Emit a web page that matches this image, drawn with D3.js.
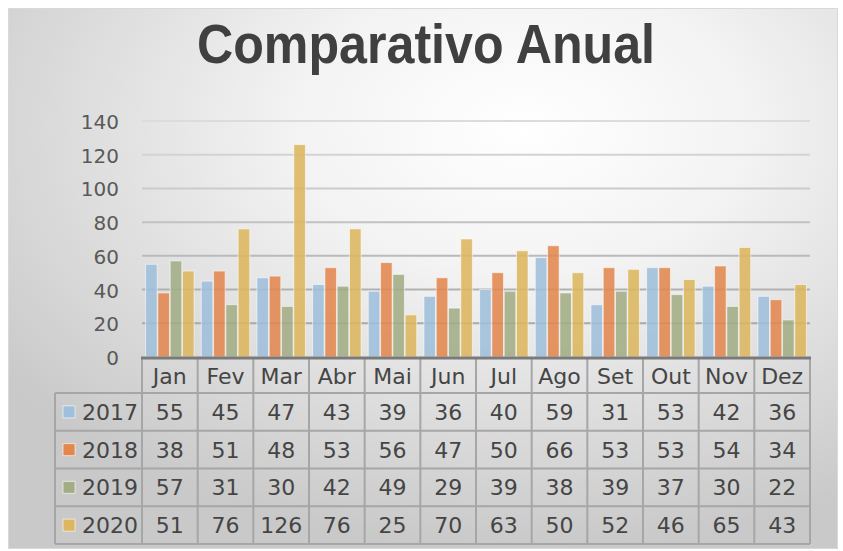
<!DOCTYPE html>
<html>
<head>
<meta charset="utf-8">
<script src="https://cdn.jsdelivr.net/npm/d3@7"></script>
<style>
  html, body { margin: 0; padding: 0; background: #fff; }
  svg { display: block; }
  text { font-family: "DejaVu Sans", sans-serif; fill: #454545; }
</style>
</head>
<body>
<svg id="chart" width="843" height="551"></svg>
<script>
var months = ['Jan', 'Fev', 'Mar', 'Abr', 'Mai', 'Jun', 'Jul', 'Ago', 'Set', 'Out', 'Nov', 'Dez'];
var years = ['2017', '2018', '2019', '2020'];
var v2017 = [55, 45, 47, 43, 39, 36, 40, 59, 31, 53, 42, 36];
var v2018 = [38, 51, 48, 53, 56, 47, 50, 66, 53, 53, 54, 34];
var v2019 = [57, 31, 30, 42, 49, 29, 39, 38, 39, 37, 30, 22];
var v2020 = [51, 76, 126, 76, 25, 70, 63, 50, 52, 46, 65, 43];
var yTicks = [0, 20, 40, 60, 80, 100, 120, 140];
var colours = ['#9fbfdc', '#e2884f', '#a3ad85', '#dcb660'];

var series = [v2017, v2018, v2019, v2020];

var svg = d3.select('#chart');

// Background with a soft radial gradient
var defs = svg.append('defs');
var grad = defs.append('radialGradient')
    .attr('id', 'bg')
    .attr('cx', '62%').attr('cy', '22%').attr('r', '78%');
grad.append('stop').attr('offset', '0%').attr('stop-color', '#ffffff');
grad.append('stop').attr('offset', '35%').attr('stop-color', '#f3f3f3');
grad.append('stop').attr('offset', '100%').attr('stop-color', '#c9c9c9');

svg.append('rect')
    .attr('x', 8.5).attr('y', 8.5)
    .attr('width', 829).attr('height', 540)
    .attr('fill', 'url(#bg)')
    .attr('stroke', '#d9d9d9');

// Title
svg.append('text')
    .attr('x', 426).attr('y', 63)
    .attr('text-anchor', 'middle')
    .attr('textLength', 458)
    .attr('lengthAdjust', 'spacingAndGlyphs')
    .style('font-family', '"Liberation Sans", Arial, sans-serif')
    .style('font-weight', 'bold')
    .style('font-size', '55px')
    .style('fill', '#404040')
    .text('Comparativo Anual');

// Plot area
var plot = {left: 142, right: 810, top: 121, bottom: 357};

var x = d3.scaleBand()
    .domain(months)
    .range([plot.left, plot.right])
    .paddingInner(0.13)
    .paddingOuter(0.065);

var xSub = d3.scaleBand()
    .domain(years)
    .range([0, x.bandwidth()])
    .paddingInner(0.06);

var y = d3.scaleLinear()
    .domain([0, 140])
    .range([plot.bottom, plot.top]);

// Gridlines get darker toward the bottom of the plot
var gridColour = d3.scaleLinear().domain([0, 140]).range(['#a0a0a0', '#dcdcdc']);

svg.append('g')
    .selectAll('line')
    .data(yTicks.filter(function(d) { return d > 0; }))
    .enter()
    .append('line')
        .attr('x1', plot.left).attr('x2', plot.right)
        .attr('y1', function(d) { return y(d); })
        .attr('y2', function(d) { return y(d); })
        .attr('stroke', function(d) { return gridColour(d); })
        .attr('stroke-width', 2);

// Y axis labels
svg.append('g')
    .selectAll('text')
    .data(yTicks)
    .enter()
    .append('text')
        .attr('x', 119)
        .attr('y', function(d) { return y(d) + 8; })
        .attr('text-anchor', 'end')
        .style('font-size', '20px')
        .style('fill', '#595959')
        .text(function(d) { return d; });

// Bars
var groups = svg.append('g')
    .selectAll('g')
    .data(months)
    .enter()
    .append('g')
        .attr('transform', function(d) { return 'translate(' + x(d) + ',0)'; });

groups.selectAll('rect')
    .data(function(d, i) {
        return years.map(function(yr, j) { return {year: yr, value: series[j][i], idx: j}; });
    })
    .enter()
    .append('rect')
        .attr('x', function(d) { return xSub(d.year); })
        .attr('y', function(d) { return y(d.value); })
        .attr('width', xSub.bandwidth())
        .attr('height', function(d) { return plot.bottom - y(d.value); })
        .attr('fill', function(d) { return colours[d.idx]; })
        .attr('fill-opacity', 0.88)
        .attr('stroke', 'rgba(255,255,255,0.55)')
        .attr('stroke-width', 1);

// Data table
var step = x.step();
var rowTop = 358;
var headH = 35;
var rowH = 37.75;
var tableLeft = 55;
var border = '#a6a6a6';

var table = svg.append('g');

// Header row with month names
table.selectAll('.head')
    .data(months)
    .enter()
    .append('text')
        .attr('class', 'head')
        .attr('x', function(d, i) { return plot.left + step * (i + 0.5); })
        .attr('y', rowTop + headH / 2 + 8)
        .attr('text-anchor', 'middle')
        .style('font-size', '22px')
        .text(function(d) { return d; });

// Value rows
years.forEach(function(yr, j) {
    var cy = rowTop + headH + rowH * j + rowH / 2;
    table.append('rect')
        .attr('x', 63).attr('y', cy - 6)
        .attr('width', 12).attr('height', 12)
        .attr('fill', colours[j])
        .attr('stroke', 'rgba(255,255,255,0.6)');
    table.append('text')
        .attr('x', 82).attr('y', cy + 8)
        .style('font-size', '22px')
        .text(yr);
    table.selectAll('.v' + yr)
        .data(series[j])
        .enter()
        .append('text')
            .attr('x', function(d, i) { return plot.left + step * (i + 0.5); })
            .attr('y', cy + 8)
            .attr('text-anchor', 'middle')
            .style('font-size', '22px')
            .text(function(d) { return d; });
});

// Table grid lines
var bottom = rowTop + headH + rowH * years.length;
var hLines = [rowTop + headH];
years.forEach(function(yr, j) { hLines.push(rowTop + headH + rowH * (j + 1)); });

table.selectAll('.hl')
    .data(hLines)
    .enter()
    .append('line')
        .attr('x1', tableLeft).attr('x2', plot.right)
        .attr('y1', function(d) { return d; }).attr('y2', function(d) { return d; })
        .attr('stroke', border).attr('stroke-width', 2);

var vLines = d3.range(months.length + 1).map(function(i) { return plot.left + step * i; });
table.selectAll('.vl')
    .data(vLines)
    .enter()
    .append('line')
        .attr('x1', function(d) { return d; }).attr('x2', function(d) { return d; })
        .attr('y1', rowTop).attr('y2', bottom)
        .attr('stroke', border).attr('stroke-width', 2);

table.append('line')
    .attr('x1', tableLeft).attr('x2', tableLeft)
    .attr('y1', rowTop + headH).attr('y2', bottom)
    .attr('stroke', border).attr('stroke-width', 2);

// Category axis line
svg.append('line')
    .attr('x1', plot.left - 1).attr('x2', plot.right + 1)
    .attr('y1', plot.bottom + 1).attr('y2', plot.bottom + 1)
    .attr('stroke', '#7a7a7a').attr('stroke-width', 3);
</script>
</body>
</html>
